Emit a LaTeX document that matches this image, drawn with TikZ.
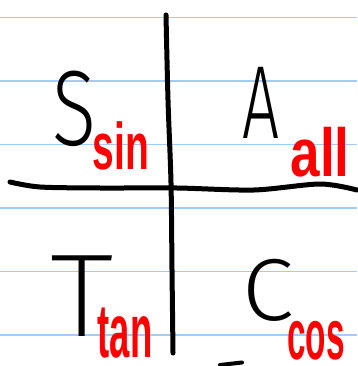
\documentclass[tikz,border=0pt]{standalone}
\usepackage{fontspec}
\setmainfont{Liberation Sans}
\newfontfamily\thinfont{Fira Sans Light}
\newfontfamily\xthinfont{Fira Sans ExtraLight}
\definecolor{ruleblue}{RGB}{160,204,245}
\newcommand{\hw}[3]{\fontsize{#1}{#1}\selectfont\scalebox{#2}[1]{#3}}
\begin{document}
\begin{tikzpicture}[x=1pt,y=-1pt,
  ruled/.style={draw=ruleblue,line width=1.8pt},
  pen/.style={line width=5pt,line cap=round,line join=round},
  big/.style={inner sep=0pt,anchor=base,text=black,font=\thinfont},
  lab/.style={inner sep=0pt,anchor=base,text=red,font=\bfseries}]
\useasboundingbox (0,0) rectangle (357,366);
\fill[white] (0,0) rectangle (357,366);
\foreach \y in {17.5,81,144.5,208,271.5,335} \draw[ruled] (0,\y) -- (357,\y);
\draw[pen] plot[smooth] coordinates {(166,15) (168,100) (171,183) (172,270) (173,353)};
\draw[pen] plot[smooth] coordinates {(10,182) (40,187) (100,188) (177,188) (254,190) (320,184) (357,190)};
\draw[line width=4pt,line cap=round] (220,365) -- (242,362.5);
\node[big] (S) at (74,146) {\hw{107}{0.76}{S}};
\node[big] (A) at (261,139) {\hw{104}{0.63}{A}};
\node[big,font=\xthinfont] (T) at (82,336) {\hw{118}{1.1}{T}};
\node[big] (C) at (268,320) {\hw{88}{1.06}{C}};
\node[lab] (sin) at (121,169) {\hw{66}{0.59}{sin}};
\node[lab] (all) at (320,176) {\hw{68}{0.78}{all}};
\node[lab] (tan) at (125,357) {\hw{76}{0.48}{tan}};
\node[lab] (cos) at (316,359) {\hw{71}{0.47}{cos}};
\end{tikzpicture}
\end{document}
